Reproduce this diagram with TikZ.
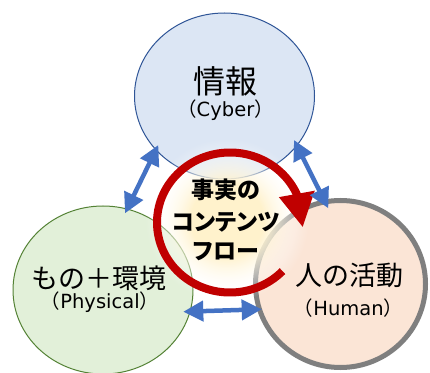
\documentclass[tikz,border=0pt]{standalone}
\usepackage{fontspec}
\newfontfamily\cjk{Noto Sans CJK JP}
\newfontfamily\cjkp[RawFeature=+palt]{Noto Sans CJK JP}
\newfontfamily\lat{DejaVu Sans}
\usetikzlibrary{arrows.meta,bending,fadings}
\definecolor{topfill}{HTML}{DCE6F4}
\definecolor{topline}{HTML}{2F5597}
\definecolor{greenfill}{HTML}{E2F0D9}
\definecolor{greenline}{HTML}{548235}
\definecolor{humanfill}{HTML}{FBE5D6}
\definecolor{humanline}{HTML}{7F7F7F}
\definecolor{redc}{HTML}{C00000}
\definecolor{arrowblue}{HTML}{4472C4}
\definecolor{glowY}{HTML}{FFF2CC}
\pgfdeclareradialshading{glowmaskshade}{\pgfpointorigin}{color(0bp)=(pgftransparent!0); color(11bp)=(pgftransparent!0); color(25bp)=(pgftransparent!100); color(50bp)=(pgftransparent!100)}
\pgfdeclarefading{glowfade}{\pgfuseshading{glowmaskshade}}
\pgfdeclareradialshading{glowshade}{\pgfpointorigin}{color(0bp)=(glowY); color(11bp)=(glowY); color(21bp)=(white); color(50bp)=(white)}
\tikzset{
  bluearrow/.style={draw=arrowblue, line width=4.5pt,
    {Triangle[length=20pt,width=20pt]}-{Triangle[length=20pt,width=20pt]}},
  bigtxt/.style={font=\cjk\fontsize{27}{30}\selectfont, inner sep=0pt},
  subtxt/.style={font=\cjk\fontsize{19.5}{22}\selectfont, inner sep=0pt},
  flowtxt/.style={font=\cjkp\bfseries\fontsize{23}{26}\selectfont, inner sep=0pt},
}
\begin{document}
\begin{tikzpicture}[x=1pt,y=1pt]
\useasboundingbox (0,0) rectangle (430,372);
\fill[white] (0,0) rectangle (430,372);
% circles
\draw[topline, fill=topfill, line width=1pt] (224.5,276) ellipse [x radius=90, y radius=83];
\draw[greenline, fill=greenfill, line width=1pt] (103,82) ellipse [x radius=90, y radius=84];
\draw[humanline, fill=humanfill, line width=5pt] (340.5,88) ellipse [x radius=85, y radius=83.5];
% glow
\shade[shading=glowshade, path fading=glowfade] (227,152) circle (82);
% red circular arrow
\coordinate (redstart) at ([shift={(-44:73 and 70)}]230,149.5);
\draw[redc, line width=8pt, -{Triangle[length=34pt,width=34pt,flex]}]
  (redstart) arc [start angle=-44, end angle=-364, x radius=73, y radius=70];
% texts
\node[font=\cjk\fontsize{32}{36}\selectfont, inner sep=0pt] (cyber) at (225.8,291) {情報};
\node[subtxt] (cyberen) at (225.5,261.5) {（{\lat Cyber}）};
\node[bigtxt] (phys) at (99,94) {もの＋環境};
\node[subtxt] (physen) at (100,69.5) {（{\lat Physical}）};
\node[bigtxt] (human) at (349,97) {人の活動};
\node[subtxt] (humanen) at (348.5,63.5) {（{\lat Human}）};
\node[flowtxt] (f1) at (226,182) {事実の};
\node[flowtxt] (f2) at (226,150) {コンテンツ};
\node[flowtxt] (f3) at (226,120) {フロー};
% blue arrows
\coordinate (tla) at (158.3,227);
\coordinate (tlb) at (125,158.7);
\coordinate (tra) at (294,232);
\coordinate (trb) at (328.3,163.7);
\coordinate (bl) at (183.3,60.3);
\coordinate (br) at (261.7,62.7);
\draw[bluearrow] (tla) -- (tlb);
\draw[bluearrow] (tra) -- (trb);
\draw[bluearrow] (bl) -- (br);
\end{tikzpicture}
\end{document}
